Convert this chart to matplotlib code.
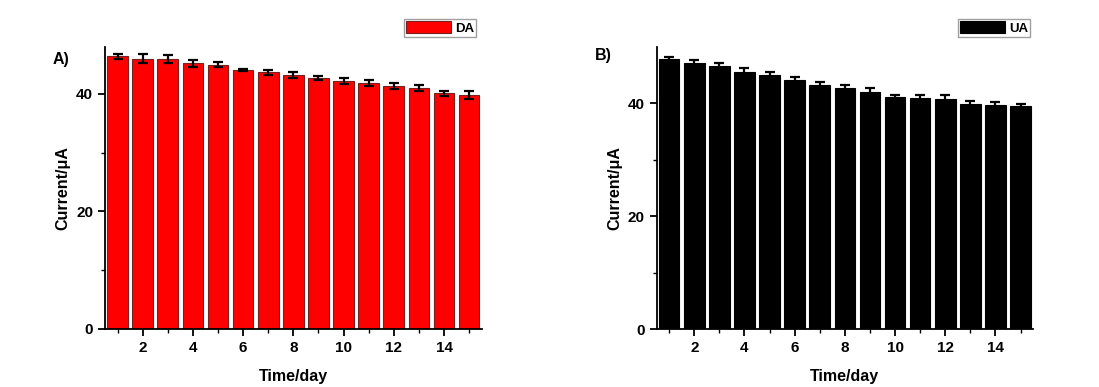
import matplotlib
matplotlib.use("Agg")
import matplotlib.pyplot as plt

plt.rcParams['font.family'] = ['Liberation Sans', 'DejaVu Sans']
plt.rcParams['font.weight'] = 'bold'

# ── data ─────────────────────────────────────────────────────────────────────
days = list(range(1, 16))

da_current = [46.4, 46.0, 45.9, 45.2, 45.0, 44.1, 43.7, 43.2,
              42.7, 42.2, 41.9, 41.3, 41.0, 40.1, 39.8]
da_error   = [0.45, 0.8, 0.7, 0.55, 0.45, 0.2, 0.45, 0.55,
              0.35, 0.55, 0.5, 0.5, 0.45, 0.4, 0.7]

ua_current = [47.8, 47.1, 46.7, 45.5, 45.0, 44.1, 43.2, 42.7,
              42.1, 41.1, 41.0, 40.8, 39.9, 39.7, 39.5]
ua_error   = [0.47, 0.59, 0.47, 0.82, 0.53, 0.53, 0.59, 0.59,
              0.65, 0.41, 0.41, 0.76, 0.53, 0.59, 0.47]

x_ticks = [2, 4, 6, 8, 10, 12, 14]
y_ticks = [0, 20, 40]
y_minor = [10, 30]

fig = plt.figure(figsize=(10.99, 3.87), dpi=100)
ax_a = fig.add_axes([0.0955, 0.150, 0.3428, 0.7286])
ax_b = fig.add_axes([0.5975, 0.149, 0.3425, 0.7296])

# ax, values, errors, fill, edge, legend name, panel tag, ymax, tag pos, legend x
panels = [
    (ax_a, da_current, da_error, "#ff0000", "#7a2020", "DA", "A)", 48, (-0.14, 0.955), 0.985),
    (ax_b, ua_current, ua_error, "#000000", "#000000", "UA", "B)", 50, (-0.165, 0.97), 0.992),
]

for ax, vals, errs, color, edge, name, tag, ytop, tagpos, legx in panels:
    ax.bar(days, vals, width=0.82, color=color, edgecolor=edge,
           linewidth=0.8, label=name, zorder=2)
    ax.errorbar(days, vals, yerr=errs, fmt='none', ecolor='black',
                elinewidth=1.6, capsize=3.5, capthick=1.6, zorder=3)
    ax.set_xlim(0.5, 15.5)
    ax.set_ylim(0, ytop)
    ax.set_xticks(x_ticks)
    ax.set_xticks(range(1, 16, 2), minor=True)
    ax.set_yticks(y_ticks)
    ax.set_yticks(y_minor, minor=True)
    for s in ('top', 'right'):
        ax.spines[s].set_visible(False)
    for s in ('left', 'bottom'):
        ax.spines[s].set_linewidth(1.3)
    ax.tick_params(axis='both', which='major', direction='out', length=5,
                   width=1.3, labelsize=11)
    ax.tick_params(axis='both', which='minor', direction='out', length=3, width=1.0)
    ax.set_xlabel("Time/day", fontsize=11.5, fontweight='bold', labelpad=10)
    ax.set_ylabel("Current/\u03bcA", fontsize=11.5, fontweight='bold', labelpad=4)
    ax.text(tagpos[0], tagpos[1], tag, transform=ax.transAxes, fontsize=11.5,
            fontweight='bold', ha='left', va='center')
    leg = ax.legend(loc='upper right', bbox_to_anchor=(legx, 1.10), frameon=True,
                    fancybox=False, edgecolor='#888888', fontsize=9.5,
                    handlelength=3.4, handleheight=1.1, borderpad=0.15,
                    handletextpad=0.3, borderaxespad=0.0)
    leg.get_frame().set_linewidth(1.0)

fig.savefig("out.png", dpi=100)
